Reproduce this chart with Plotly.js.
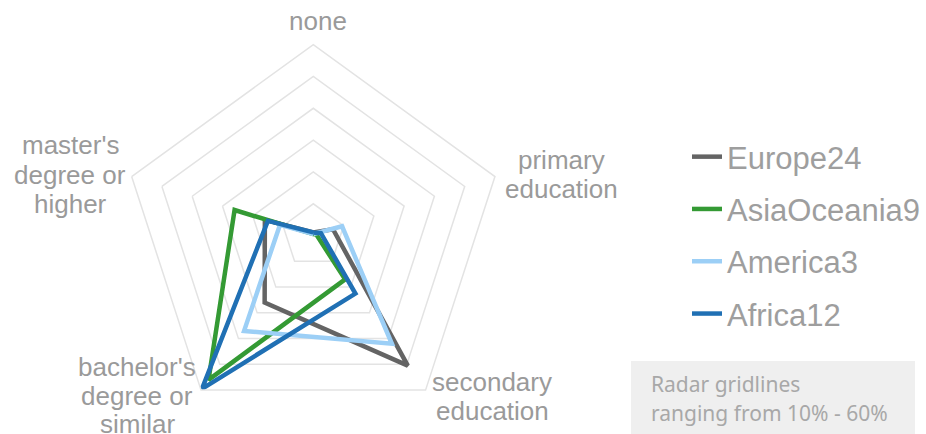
<!DOCTYPE html>
<html>
<head>
<meta charset="utf-8">
<script src="https://cdn.plot.ly/plotly-3.0.1.min.js"></script>
<style>html,body{margin:0;padding:0;background:#fff;}#chart{width:926px;height:434px;}</style>
</head>
<body>
<div id="chart"></div>
<script>
// ---- data ----
const categories = ['none', 'primary education', 'secondary education', "bachelor's degree or similar", "master's degree or higher"];
const categoryLabelLines = [['none'], ['primary', 'education'], ['secondary', 'education'], ["bachelor's", 'degree or', 'similar'], ["master's", 'degree or', 'higher']];
const seriesNames = ['Europe24', 'AsiaOceania9', 'America3', 'Africa12'];
const europe24 = [1, 6.5, 50.5, 26, 16];
const asiaOceania9 = [0.5, 1, 17, 56, 26];
const america3 = [0.5, 9.5, 42, 37, 11];
const africa12 = [1, 2.5, 22.5, 59.5, 15];
const gridTicks = [10, 20, 30, 40, 50, 60];
const noteLines = ['Radar gridlines', 'ranging from 10% - 60%'];

// ---- styles / layout ----
const W = 926, H = 434;
const colors = ['#646464', '#349a34', '#9ccff6', '#2070b4'];
const labelPos = [[318, [21]], [561, [160, 189]], [492, [382, 411]], [137, [367, 396, 424]], [70, [145, 175, 204]]];
const px = x => x / W, py = y => 1 - y / H;

const allSeries = [europe24, asiaOceania9, america3, africa12];
const traces = allSeries.map((vals, i) => ({
  type: 'scatterpolar',
  mode: 'lines',
  name: seriesNames[i],
  legendgroup: 'g' + i,
  r: vals.concat([vals[0]]),
  theta: categories.concat([categories[0]]),
  line: {color: colors[i], width: 4.5},
  hoverinfo: 'skip'
}));

const annotations = [];
categoryLabelLines.forEach((lines, i) => {
  lines.forEach((t, j) => {
    annotations.push({
      xref: 'paper', yref: 'paper', x: px(labelPos[i][0]), y: py(labelPos[i][1][j]),
      xanchor: 'center', yanchor: 'middle', showarrow: false, text: t,
      font: {family: 'Liberation Sans, Arial, sans-serif', size: 26, color: '#9a9a9a'}
    });
  });
});
noteLines.forEach((t, j) => {
  annotations.push({
    xref: 'paper', yref: 'paper', x: px(649), y: py(384 + 29 * j),
    xanchor: 'left', yanchor: 'middle', showarrow: false, text: t,
    font: {family: 'Noto Sans, sans-serif', size: 21, color: '#a8a8a8'}
  });
});

const layout = {
  width: W, height: H,
  margin: {l: 0, r: 0, t: 0, b: 0},
  paper_bgcolor: '#ffffff',
  showlegend: true,
  legend: {
    x: px(687), xanchor: 'left', y: py(130), yanchor: 'top',
    font: {family: 'Liberation Sans, Arial, sans-serif', size: 31, color: '#9e9e9e'},
    tracegroupgap: 9, bgcolor: 'rgba(0,0,0,0)'
  },
  polar: {
    domain: {x: [px(122.3), px(504.3)], y: [py(426.6), py(44.6)]},
    gridshape: 'linear',
    bgcolor: 'rgba(0,0,0,0)',
    radialaxis: {
      range: [0, 60], tickvals: gridTicks, showticklabels: false, ticks: '',
      showline: false, gridcolor: '#e3e3e3', gridwidth: 1.5
    },
    angularaxis: {
      type: 'category', categoryarray: categories, direction: 'clockwise', rotation: 90,
      showgrid: false, showticklabels: false, ticks: '',
      showline: true, linecolor: '#e3e3e3', linewidth: 1.5
    }
  },
  shapes: [{
    type: 'rect', xref: 'paper', yref: 'paper', layer: 'below',
    x0: px(631), x1: px(915), y0: py(361), y1: py(440),
    fillcolor: '#efefef', line: {width: 0}
  }],
  annotations: annotations
};

Plotly.newPlot('chart', traces, layout, {displayModeBar: false, staticPlot: true});
</script>
</body>
</html>
